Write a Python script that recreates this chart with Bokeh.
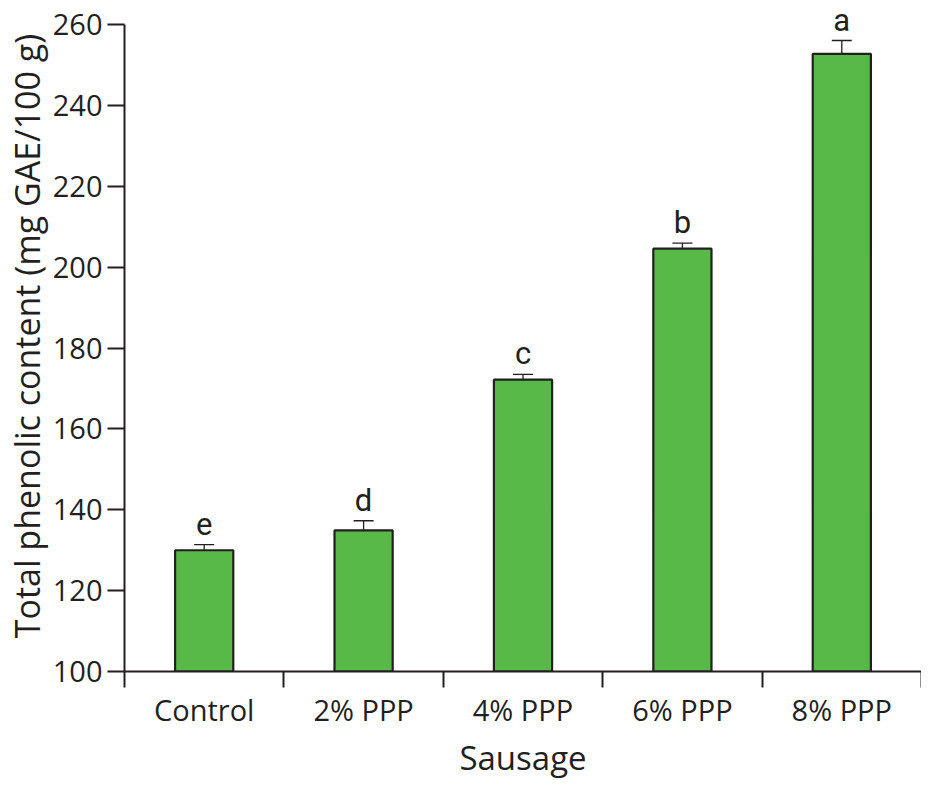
from bokeh.plotting import figure
from bokeh.models import (ColumnDataSource, Range1d, FixedTicker, Whisker, TeeHead,
                          LabelSet)
from bokeh.core.properties import value
from bokeh.embed import file_html
from bokeh.resources import INLINE

# ---- data ----
categories = ["Control", "2% PPP", "4% PPP", "6% PPP", "8% PPP"]
means = [130.0, 134.9, 172.2, 204.6, 252.8]
errors = [1.4, 2.4, 1.3, 1.4, 3.3]
letters = ["e", "d", "c", "b", "a"]
y_ticks = [100, 120, 140, 160, 180, 200, 220, 240, 260]

FONT = "Open Sans"
INK = "#231f20"

xs = list(range(len(categories)))
src = ColumnDataSource(dict(
    x=xs,
    top=means,
    lower=[m - e for m, e in zip(means, errors)],
    upper=[m + e for m, e in zip(means, errors)],
    letter=letters,
))

p = figure(width=921, height=782, output_backend="svg", toolbar_location=None,
           x_range=Range1d(-0.5, len(categories) - 0.5),
           y_range=Range1d(y_ticks[0], y_ticks[-1] + 6),
           min_border_left=110, min_border_top=0, min_border_right=0,
           min_border_bottom=100)
p.outline_line_color = None
p.grid.visible = False
p.background_fill_color = "white"

p.vbar(x="x", top="top", bottom=y_ticks[0], width=0.365, source=src,
       fill_color="#58b948", line_color=INK, line_width=2.2)

w = Whisker(base="x", lower="lower", upper="upper", source=src,
            line_color=INK, line_width=1.3,
            upper_head=TeeHead(size=20, line_color=INK, line_width=1.3),
            lower_head=TeeHead(size=20, line_color=INK, line_width=1.3))
p.add_layout(w)

lbl = LabelSet(x="x", y="upper", text="letter", source=src, y_offset=10,
               text_align="center", text_baseline="alphabetic",
               text_font=value("Roboto"), text_font_size="31px", text_color=INK)
p.add_layout(lbl)

# x axis: labels at category centres, ticks at category boundaries
xa = p.xaxis[0]
xa.ticker = FixedTicker(ticks=xs, minor_ticks=[i - 0.5 for i in range(len(categories) + 1)])
xa.major_label_overrides = {i: c for i, c in enumerate(categories)}
xa.major_tick_out = 0
xa.major_tick_in = 0
xa.minor_tick_out = 16
xa.minor_tick_in = 0
xa.minor_tick_line_color = INK
xa.minor_tick_line_width = 2
xa.axis_line_color = INK
xa.axis_line_width = 2
xa.major_label_text_font = FONT
xa.major_label_text_font_size = "29px"
xa.major_label_text_color = INK
xa.major_label_standoff = 2
xa.axis_label = "Sausage"
xa.axis_label_text_font = FONT
xa.axis_label_text_font_size = "33px"
xa.axis_label_text_font_style = "normal"
xa.axis_label_text_color = INK
xa.axis_label_standoff = 3

ya = p.yaxis[0]
ya.bounds = (y_ticks[0], y_ticks[-1])
ya.ticker = FixedTicker(ticks=y_ticks, minor_ticks=[])
ya.major_tick_out = 17
ya.major_tick_in = 0
ya.major_tick_line_color = INK
ya.major_tick_line_width = 2
ya.axis_line_color = INK
ya.axis_line_width = 2
ya.major_label_text_font = FONT
ya.major_label_text_font_size = "29px"
ya.major_label_text_color = INK
ya.major_label_standoff = 5
ya.axis_label = "Total phenolic content (mg GAE/100 g)"
ya.axis_label_text_font = FONT
ya.axis_label_text_font_size = "34px"
ya.axis_label_text_font_style = "normal"
ya.axis_label_text_color = INK
ya.axis_label_standoff = 0

open("out.html", "w").write(file_html(p, INLINE))
